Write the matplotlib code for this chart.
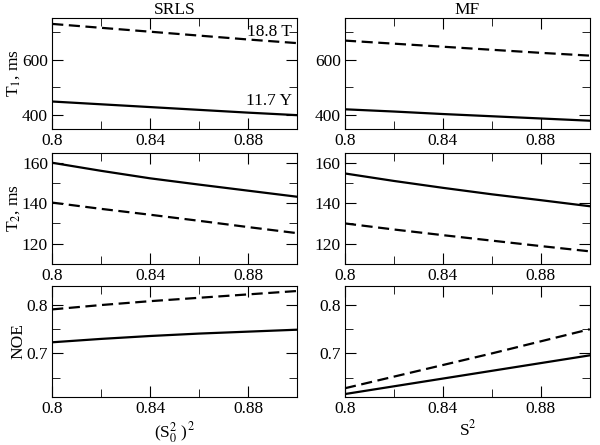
import numpy as np
import matplotlib
matplotlib.use("Agg")
import matplotlib.pyplot as plt
from matplotlib.ticker import MultipleLocator

plt.rcParams['font.family'] = ['Liberation Serif', 'DejaVu Serif']
plt.rcParams['mathtext.fontset'] = 'stix'
fs = 12.5
plt.rcParams['font.size'] = fs

s2 = [0.80, 0.82, 0.84, 0.86, 0.88, 0.90]

# SRLS column
srls_t1_188 = [728, 714, 700, 686, 672, 659]
srls_t1_117 = [449, 439, 429, 419, 409, 400]
srls_t2_117 = [160.0, 156.0, 152.3, 149.2, 146.2, 143.2]
srls_t2_188 = [140.3, 137.2, 134.3, 131.3, 128.2, 125.2]
srls_noe_188 = [0.791, 0.800, 0.808, 0.815, 0.822, 0.829]
srls_noe_117 = [0.723, 0.730, 0.736, 0.741, 0.745, 0.749]

# MF column
mf_t1_188 = [668, 657, 646, 635, 624, 614]
mf_t1_117 = [421, 413, 404, 396, 388, 380]
mf_t2_117 = [154.7, 151.0, 147.6, 144.4, 141.5, 138.5]
mf_t2_188 = [130.0, 127.0, 124.2, 121.5, 118.8, 116.2]
mf_noe_188 = [0.628, 0.652, 0.676, 0.700, 0.725, 0.750]
mf_noe_117 = [0.616, 0.632, 0.648, 0.664, 0.680, 0.696]

rows = [
    (srls_t1_117, srls_t1_188, mf_t1_117, mf_t1_188, "T$_1$, ms", (350, 750), 200, 100),
    (srls_t2_117, srls_t2_188, mf_t2_117, mf_t2_188, "T$_2$, ms", (110, 165), 20, 10),
    (srls_noe_117, srls_noe_188, mf_noe_117, mf_noe_188, "NOE", (0.61, 0.84), 0.1, 0.05),
]

fig = plt.figure(figsize=(6, 4.45), dpi=100)
lefts = [0.087, 0.575]
bottoms = [0.710, 0.407, 0.108]
w, h = 0.408, 0.250

axes = {}
for r, (a117, a188, b117, b188, ylab, ylim, major, minor) in enumerate(rows):
    for c in range(2):
        ax = fig.add_axes([lefts[c], bottoms[r], w, h])
        y117 = a117 if c == 0 else b117
        y188 = a188 if c == 0 else b188
        ax.plot(s2, y188, color='black', lw=1.6, ls=(0, (5, 2.5)))
        ax.plot(s2, y117, color='black', lw=1.6)
        ax.set_xlim(0.8, 0.9)
        ax.set_ylim(*ylim)
        ax.xaxis.set_major_locator(MultipleLocator(0.04))
        ax.xaxis.set_minor_locator(MultipleLocator(0.02))
        ax.yaxis.set_major_locator(MultipleLocator(major))
        ax.yaxis.set_minor_locator(MultipleLocator(minor))
        ax.xaxis.set_major_formatter(plt.FuncFormatter(lambda v, p: ("%.2f" % v).rstrip('0')))
        if r == 2:
            ax.yaxis.set_major_formatter(plt.FuncFormatter(lambda v, p: "%.1f" % v))
        ax.tick_params(which='both', direction='in', top=True, right=True, labelsize=fs, pad=3)
        ax.tick_params(which='major', length=8)
        ax.tick_params(which='minor', length=6)
        if c == 0:
            ax.set_ylabel(ylab, fontsize=fs, labelpad=0)
        axes[(r, c)] = ax

axes[(0, 0)].set_title("SRLS", fontsize=fs, pad=2)
axes[(0, 1)].set_title("MF", fontsize=fs, pad=2)
axes[(0, 0)].text(0.898, 700, "18.8 T", ha='right', va='center', fontsize=fs)
axes[(0, 0)].text(0.898, 452, "11.7 Y", ha='right', va='center', fontsize=fs)
axes[(2, 0)].set_xlabel("(S$_0^2$ )$^2$", fontsize=fs, labelpad=2)
axes[(2, 1)].set_xlabel("S$^2$", fontsize=fs, labelpad=2)

fig.savefig("out.png", dpi=100)
